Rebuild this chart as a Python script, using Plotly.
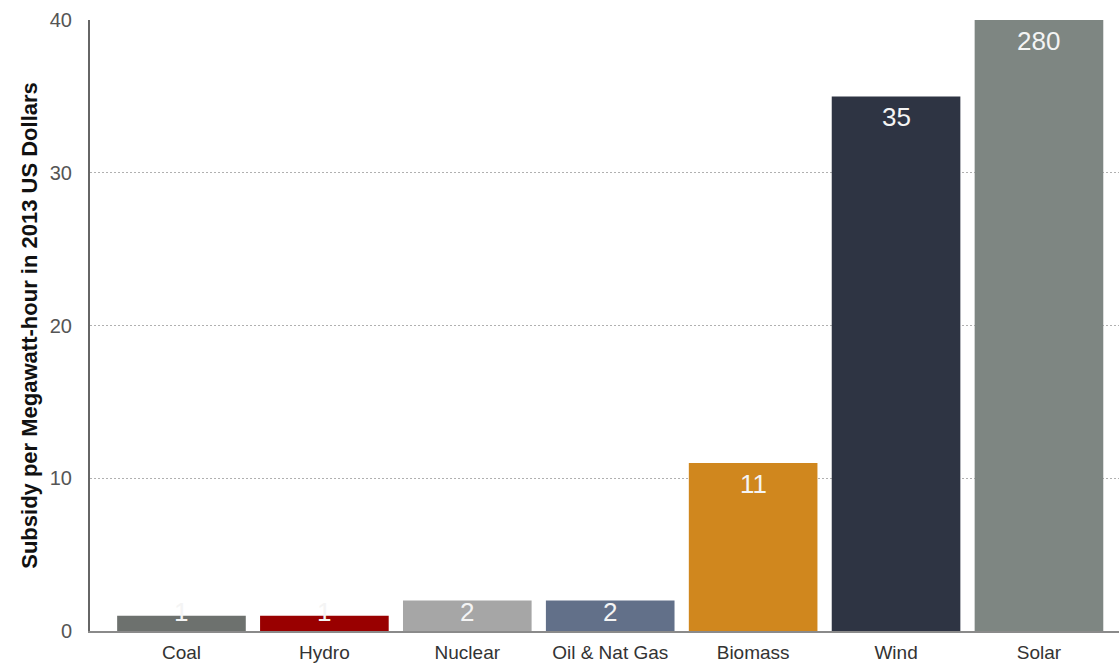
import plotly.graph_objects as go

categories = ["Coal", "Hydro", "Nuclear", "Oil & Nat Gas", "Biomass", "Wind", "Solar"]
subsidy = [1, 1, 2, 2, 11, 35, 280]
axis_cap = 40
colors = ["#6d716e", "#990000", "#a6a6a6", "#627089", "#d0871e", "#2e3443", "#7e8682"]
y_ticks = [0, 10, 20, 30, 40]

plotted = [min(v, axis_cap) for v in subsidy]
label_floor = 2.6  # small bars: label sits near the baseline instead of inside

fig = go.Figure(go.Bar(
    x=categories,
    y=plotted,
    marker=dict(color=colors, line=dict(width=0)),
    hovertext=[str(v) for v in subsidy],
    hoverinfo="x+text",
))

for c, v, p in zip(categories, subsidy, plotted):
    fig.add_annotation(
        x=c, y=max(p, label_floor), xref="x", yref="y",
        text=str(v), showarrow=False,
        yanchor="middle", yshift=-21,
        font=dict(color="#f4f4f4", size=26, family="Liberation Sans, Arial, sans-serif"),
    )

fig.update_layout(
    width=1119, height=666,
    margin=dict(l=90, r=0, t=20, b=35, autoexpand=False),
    plot_bgcolor="white", paper_bgcolor="white",
    bargap=0.1,
    showlegend=False,
    font=dict(family="Liberation Sans, Arial, sans-serif"),
)
fig.update_xaxes(
    range=[-0.64, 6.56],
    showline=True, linecolor="#8a8a8a", linewidth=2,
    ticks="", tickfont=dict(size=19, color="#333333"),
    ticklabelstandoff=3, automargin=False,
    showgrid=False,
)
fig.update_yaxes(
    range=[0, axis_cap],
    tickvals=y_ticks,
    showline=True, linecolor="#666666", linewidth=2,
    ticks="", tickfont=dict(size=20, color="#555555"),
    ticklabelstandoff=12, automargin=False,
    showgrid=True, gridcolor="#b0b0b0", griddash="2px,2px", gridwidth=1,
    zeroline=False,
    title=dict(text="<b>Subsidy per Megawatt-hour in 2013 US Dollars</b>",
               font=dict(size=22, color="#111111"), standoff=6),
)

fig.write_html("out.html")
